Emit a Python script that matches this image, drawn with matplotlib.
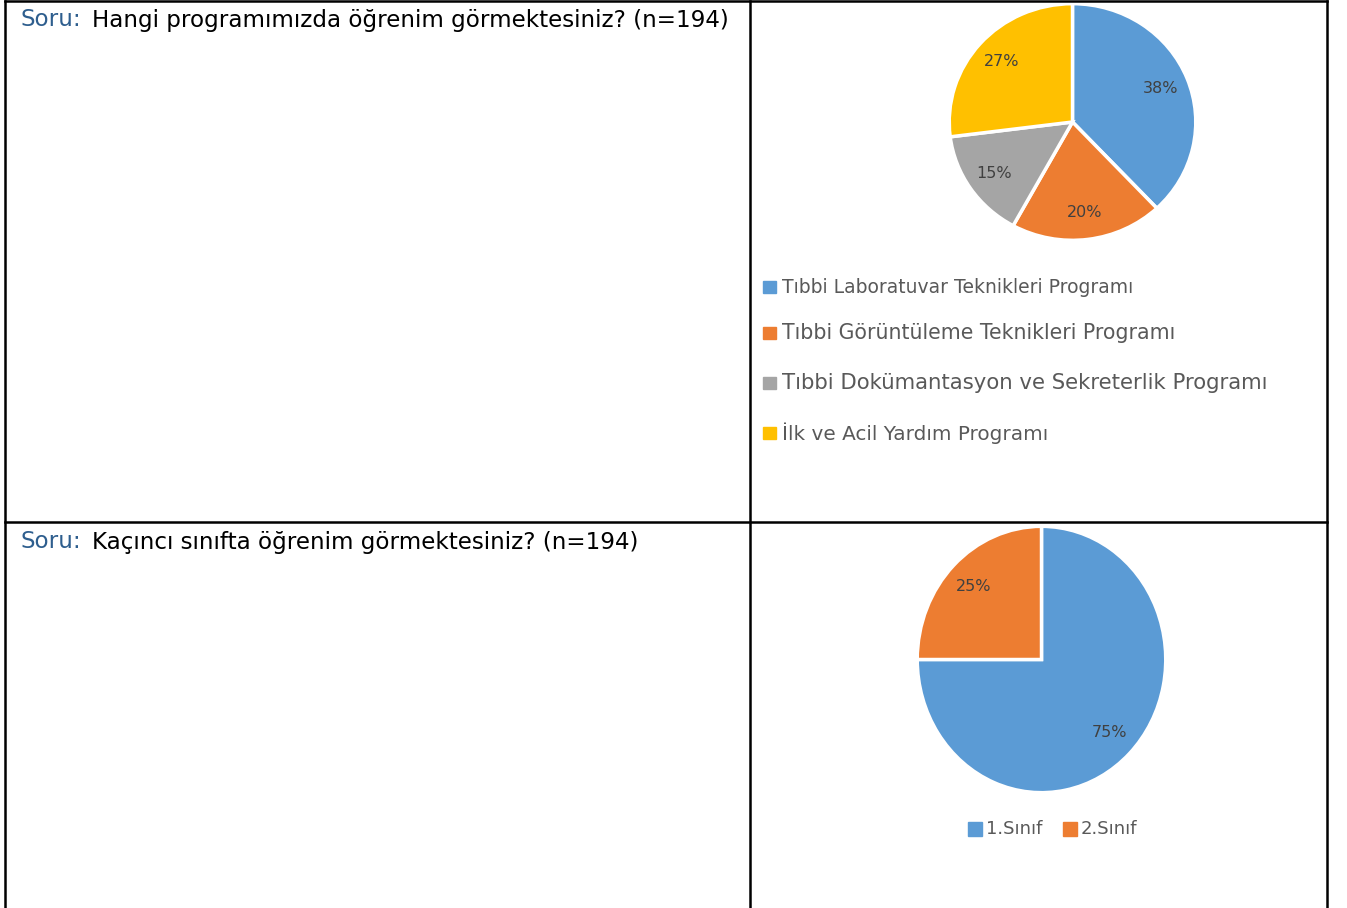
import matplotlib.pyplot as plt
from matplotlib.lines import Line2D
from matplotlib.patches import Rectangle

plt.rcParams['font.family'] = ['DejaVu Sans']

W, H = 1347, 908

# program distribution (n=194)
program_labels = [
    "Tıbbi Laboratuvar Teknikleri Programı",
    "Tıbbi Görüntüleme Teknikleri Programı",
    "Tıbbi Dokümantasyon ve Sekreterlik Programı",
    "İlk ve Acil Yardım Programı",
]
program_pct = [38, 20, 15, 27]
program_colors = ["#5B9BD5", "#ED7D31", "#A5A5A5", "#FFC000"]

# class year distribution (n=194)
year_labels = ["1.Sınıf", "2.Sınıf"]
year_pct = [75, 25]
year_colors = ["#5B9BD5", "#ED7D31"]

questions = [
    "Hangi programımızda öğrenim görmektesiniz? (n=194)",
    "Kaçıncı sınıfta öğrenim görmektesiniz? (n=194)",
]

fig = plt.figure(figsize=(W / 100, H / 100), dpi=100)


def px(x, y):
    # pixel position (from top-left) -> figure fraction
    return x / W, 1 - y / H


def add_pie(cx, cy, rx, ry, values, colors):
    left, top = px(cx - rx, cy - ry)
    ax = fig.add_axes([left, top - 2 * ry / H, 2 * rx / W, 2 * ry / H])
    ax.pie(values, colors=colors, startangle=90, counterclock=False,
           autopct=lambda p: f"{p:.0f}%", pctdistance=0.77,
           wedgeprops=dict(edgecolor="white", linewidth=2.5),
           textprops=dict(color="#404040", fontsize=11.5))
    # the chart images are stretched a little, so the pie is not kept round
    ax.set_aspect("auto")
    ax.set_xlim(-1.01, 1.01)
    ax.set_ylim(-1.01, 1.01)
    ax.axis("off")
    return ax


# table grid
lw = 1.8
for x in (5, 750, 1327):
    fig.add_artist(Line2D([x / W, x / W], [0, 1 - 1 / H], color="black", lw=lw))
for y in (1, 522):
    fig.add_artist(Line2D([5 / W, 1327 / W], [1 - y / H] * 2, color="black", lw=lw))

# question texts
renderer = fig.canvas.get_renderer()
for q, y in zip(questions, (20, 542)):
    x0, y0 = px(20, y)
    t = fig.text(x0, y0, "Soru:", color="#2E5E8E", fontsize=16.6, va="center")
    bb = t.get_window_extent(renderer)
    fig.text((bb.x1 + 11) / W, y0, q, color="black", fontsize=16.6, va="center")

# pie charts
add_pie(1072.5, 122, 124.5, 119.5, program_pct, program_colors)
add_pie(1041.5, 659.5, 125.5, 134.5, year_pct, year_colors)

# legend for programs
for lab, col, y, fs in zip(program_labels, program_colors, (287, 333, 383, 433), (13.5, 14.8, 15.3, 14.4)):
    x0, y0 = px(763, y + 6)
    fig.add_artist(Rectangle((x0, y0), 13 / W, 12 / H, color=col, transform=fig.transFigure))
    fig.text(782 / W, 1 - y / H, lab, color="#595959", fontsize=fs, va="center")

# legend for class year
for lab, col, x in zip(year_labels, year_colors, (968, 1063)):
    x0, y0 = px(x, 836)
    fig.add_artist(Rectangle((x0, y0), 14 / W, 14 / H, color=col, transform=fig.transFigure))
    fig.text((x + 18) / W, 1 - 829 / H, lab, color="#595959", fontsize=13, va="center")

fig.savefig("out.png", dpi=100)
